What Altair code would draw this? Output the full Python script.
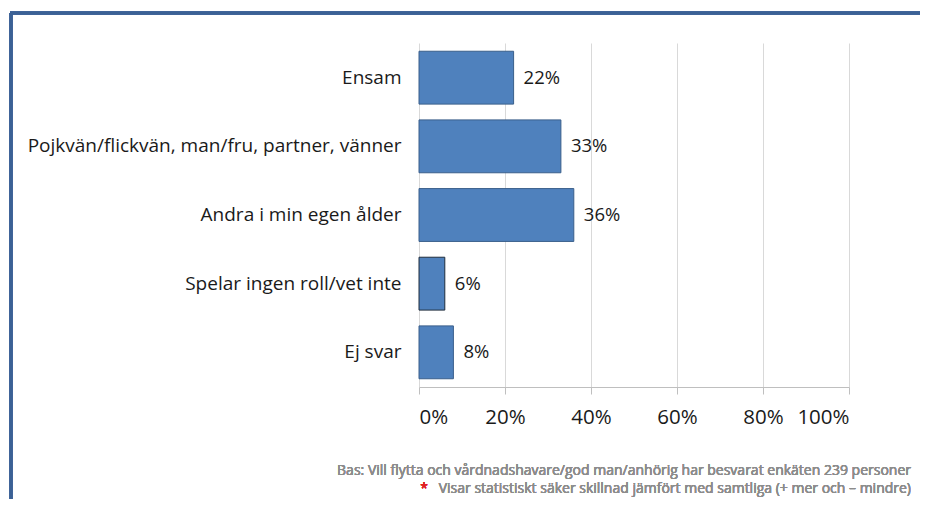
import altair as alt
import pandas as pd

categories = ["Ensam", "Pojkvän/flickvän, man/fru, partner, vänner", "Andra i min egen ålder",
              "Spelar ingen roll/vet inte", "Ej svar"]
values = [22, 33, 36, 6, 8]
tick_values = [0, 20, 40, 60, 80, 100]
footnote1 = "Bas: Vill flytta och vårdnadshavare/god man/anhörig har besvarat enkäten 239 personer"
footnote2 = "Visar statistiskt säker skillnad  jämfört med samtliga (+ mer och – mindre)"

df = pd.DataFrame({"cat": categories, "val": values, "label": [f"{v}%" for v in values]})

FONT = "Open Sans"
W, H = 430, 344

x = alt.X("val:Q", scale=alt.Scale(domain=[0, 100]),
          axis=alt.Axis(values=tick_values, labelExpr="datum.value + '%'", title=None,
                        grid=True, gridColor="#d9d9d9", domainColor="#bfbfbf", tickColor="#bfbfbf",
                        tickSize=7, labelFontSize=20.5, labelColor="#1a1a1a", labelFont=FONT,
                        labelPadding=13))
y = alt.Y("cat:N", sort=categories, scale=alt.Scale(paddingInner=0.23, paddingOuter=0.12),
          axis=alt.Axis(title=None, ticks=False, domain=False, labelFontSize=19,
                        labelColor="#1a1a1a", labelFont=FONT, labelPadding=18, labelLimit=500))

bars = alt.Chart(df).mark_bar(color="#4F81BD", strokeWidth=1).encode(
    x=x, y=y,
    stroke=alt.condition(alt.datum.cat == "Spelar ingen roll/vet inte",
                         alt.value("#1f2d3d"), alt.value("#3A5F8B")))

labels = alt.Chart(df).mark_text(align="left", dx=10, fontSize=18.5, font=FONT, color="#1a1a1a").encode(
    x="val:Q", y=alt.Y("cat:N", sort=categories), text="label:N")

frame_top = alt.Chart(df).mark_rule(color="#3B6195", strokeWidth=3).encode(
    x=alt.value(-409), x2=alt.value(501), y=alt.value(-30))
frame_left = alt.Chart(df).mark_rule(color="#3B6195", strokeWidth=3).encode(
    x=alt.value(-408), y=alt.value(-30), y2=alt.value(456))

note1 = alt.Chart(df).mark_text(align="right", baseline="middle", fontSize=14, font=FONT,
                                color="#8c8c8c").encode(
    x=alt.value(492), y=alt.value(428), text=alt.value(footnote1))
note2 = alt.Chart(df).mark_text(align="right", baseline="middle", fontSize=14, font=FONT,
                                color="#8c8c8c").encode(
    x=alt.value(492), y=alt.value(446), text=alt.value(footnote2))
star = alt.Chart(df).mark_text(align="center", baseline="middle", fontSize=14, font=FONT,
                               color="#e02020").encode(
    x=alt.value(5), y=alt.value(446), text=alt.value("*"))

chart = alt.layer(bars, labels, frame_top, frame_left, note1, note2, star).properties(
    width=W, height=H,
    padding={"left": 411, "top": 35, "right": 71, "bottom": 112},
    autosize=alt.AutoSizeParams(type="none"),
).configure_view(stroke=None)

chart.save("out.html", embed_options={"renderer": "svg", "actions": False})
